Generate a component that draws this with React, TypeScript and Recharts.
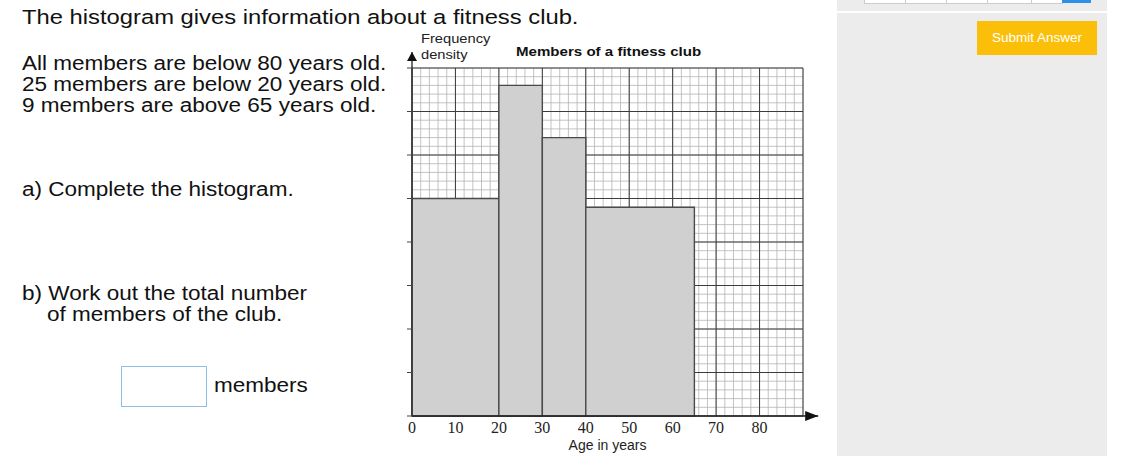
import React from 'react';
import { ComposedChart, XAxis, YAxis, CartesianGrid, ReferenceArea, ReferenceLine, Line } from 'recharts';

// classes (years) and frequency densities
const classStarts = [0, 20, 30, 40];
const classEnds = [20, 30, 40, 65];
const freqDensity = [1.25, 1.9, 1.6, 1.2];
const xTicks = [0, 10, 20, 30, 40, 50, 60, 70, 80];
const yTicks = [0, 0.25, 0.5, 0.75, 1, 1.25, 1.5, 1.75, 2];

const rows = classStarts.map((s, i) => ({ x: s, fd: freqDensity[i] }));

// graph paper: 2-year by 0.05 small squares
const minorX: number[] = [];
for (let i = 0; i <= 45; i++) minorX.push(i * 2);
const minorY: number[] = [];
for (let i = 0; i <= 40; i++) minorY.push(i * 0.05);
const majorX = [0, 10, 20, 30, 40, 50, 60, 70, 80, 90];

const sans = "'Liberation Sans', Arial, sans-serif";
const serif = "'Liberation Serif', 'Times New Roman', serif";

const ArrowLine = (props: any) => {
  const { x1, y1, x2, y2 } = props;
  const horiz = Math.abs(y2 - y1) < Math.abs(x2 - x1);
  const head = horiz
    ? `${x2},${y2} ${x2 - 13},${y2 - 5} ${x2 - 13},${y2 + 5}`
    : `${x2},${y2} ${x2 - 5},${y2 + 9} ${x2 + 5},${y2 + 9}`;
  return (
    <g>
      <line x1={x1} y1={y1} x2={x2} y2={y2} stroke="#222" strokeWidth={1.3} />
      <polygon points={head} fill="#111" />
    </g>
  );
};

const Histogram = () => (
  <ComposedChart
    width={430}
    height={426}
    data={rows}
    margin={{ top: 38, right: 27, left: 4, bottom: 10 }}
  >
    <CartesianGrid
      verticalValues={minorX}
      horizontalValues={minorY}
      stroke="#b4b4b4"
      strokeWidth={0.8}
    />
    <CartesianGrid
      verticalValues={majorX}
      horizontalValues={yTicks}
      stroke="#3c3c3c"
      strokeWidth={1}
    />
    <XAxis
      type="number"
      dataKey="x"
      domain={[0, 90]}
      allowDataOverflow
      ticks={xTicks}
      interval={0}
      tickLine={false}
      axisLine={false}
      height={30}
      tickMargin={0}
      tick={{ fill: '#222', fontSize: 16, fontFamily: serif }}
      label={{ value: 'Age in years', position: 'insideBottom', offset: -4, fill: '#222', fontSize: 14, fontFamily: sans }}
    />
    <YAxis
      type="number"
      domain={[0, 2]}
      allowDataOverflow
      ticks={yTicks}
      width={8}
      tickSize={5}
      tickFormatter={() => ''}
      tickLine={{ stroke: '#444' }}
      axisLine={{ stroke: '#444' }}
    />
    <Line dataKey="fd" stroke="none" dot={false} activeDot={false} isAnimationActive={false} />
    {classStarts.map((s, i) => (
      <ReferenceArea
        key={s}
        x1={s}
        x2={classEnds[i]}
        y1={0}
        y2={freqDensity[i]}
        fill="#d0d0d0"
        fillOpacity={1}
        stroke="#4a4a4a"
        strokeWidth={1.4}
      />
    ))}
    <ReferenceLine
      segment={[{ x: 0, y: 0 }, { x: 93.5, y: 0 }]}
      ifOverflow="visible"
      shape={ArrowLine}
    />
    <ReferenceLine
      segment={[{ x: 0, y: 0 }, { x: 0, y: 2.092 }]}
      ifOverflow="visible"
      shape={ArrowLine}
    />
  </ComposedChart>
);

const abs = (left: number, top: number, extra: React.CSSProperties = {}): React.CSSProperties => ({
  position: 'absolute',
  left,
  top,
  whiteSpace: 'nowrap',
  fontFamily: sans,
  color: '#111',
  ...extra,
});

// the page text in the reference is a little wider than Arial
const q: React.CSSProperties = { fontSize: 19.5, lineHeight: '21px', transform: 'scaleX(1.155)', transformOrigin: 'left top' };

export default function App() {
  return (
    <div style={{ position: 'absolute', left: 0, top: 0, width: 1124, height: 456, background: '#fff', overflow: 'hidden' }}>
      <div style={abs(22, 6, { ...q, fontSize: 20.5, transform: 'scaleX(1.16)' })}>The histogram gives information about a fitness club.</div>
      <div style={abs(22, 53, q)}>
        All members are below 80 years old.<br />
        25 members are below 20 years old.<br />
        9 members are above 65 years old.
      </div>
      <div style={abs(22, 179, q)}>a) Complete the histogram.</div>
      <div style={abs(22, 283, q)}>b) Work out the total number</div>
      <div style={abs(47, 304, q)}>of members of the club.</div>
      <div style={abs(121, 366, { width: 84, height: 39, border: '1px solid #8fbde3', background: '#fff' })} />
      <div style={abs(214, 375, q)}>members</div>

      <div style={abs(400, 30)}>
        <Histogram />
      </div>
      <div style={abs(421, 31, { fontSize: 13, lineHeight: '16px', color: '#222', transform: 'scaleX(1.13)', transformOrigin: 'left top' })}>
        Frequency<br />density
      </div>
      <div style={abs(516, 44, { fontSize: 13, fontWeight: 'bold', color: '#111', transform: 'scaleX(1.16)', transformOrigin: 'left top' })}>Members of a fitness club</div>

      <div style={abs(837, 0, { width: 270, height: 456, background: '#ececec' })} />
      <div style={abs(837, 11, { width: 270, height: 2, background: '#fff' })} />
      {[864, 905, 946, 987, 1031].map((x, i, arr) => (
        <div key={x} style={abs(x, -2, { width: (i < arr.length - 1 ? arr[i + 1] : 1062) - x - 1, height: 4, border: '1px solid #ccc', background: '#fff' })} />
      ))}
      <div style={abs(1062, -2, { width: 29, height: 5, background: '#2f8fe8' })} />
      <div style={abs(977, 21, { width: 120, height: 34, background: '#fbbf0a', color: '#fff', fontSize: 13.5, lineHeight: '34px', textAlign: 'center' })}>
        Submit Answer
      </div>
    </div>
  );
}
